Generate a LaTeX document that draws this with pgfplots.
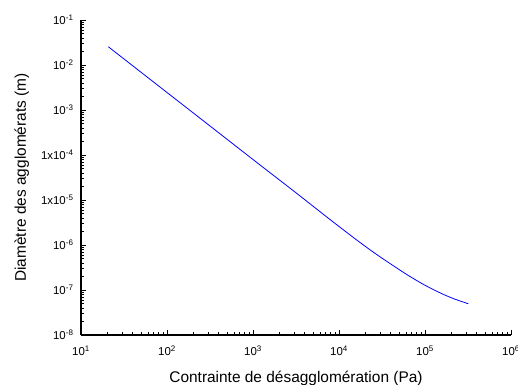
\documentclass[border=0pt]{standalone}
\usepackage{fontspec}
\setmainfont{Liberation Sans}
\usepackage{pgfplots}
\pgfplotsset{compat=1.18}
\begin{document}
\begin{tikzpicture}
\begin{loglogaxis}[
  at={(0,0)}, anchor=south west,
  scale only axis,
  width=430bp, height=315bp,
  xmin=10, xmax=1e6,
  ymin=1e-8, ymax=1e-1,
  axis lines=left,
  axis line style={-, line width=1.1bp},
  tick align=inside,
  major tick length=5bp,
  minor tick length=3bp,
  every major tick/.style={black, line width=0.9bp},
  every minor tick/.style={black, line width=0.7bp},
  xtick={10,100,1000,10000,100000,1000000},
  xticklabels={10\textsuperscript{1},10\textsuperscript{2},10\textsuperscript{3},10\textsuperscript{4},10\textsuperscript{5},10\textsuperscript{6}},
  ytick={1e-8,1e-7,1e-6,1e-5,1e-4,1e-3,1e-2,1e-1},
  yticklabels={10\textsuperscript{-8},10\textsuperscript{-7},10\textsuperscript{-6},1x10\textsuperscript{-5},1x10\textsuperscript{-4},10\textsuperscript{-3},10\textsuperscript{-2},10\textsuperscript{-1}},
  tick label style={font=\fontsize{11.5}{13}\selectfont},
  xticklabel style={yshift=-7bp},
  yticklabel style={xshift=-4bp},
  xlabel={Contrainte de désagglomération (Pa)},
  ylabel={Diamètre des agglomérats (m)},
  label style={font=\fontsize{15.5}{18}\selectfont},
  xlabel style={yshift=-9bp},
  ylabel style={yshift=5bp},
  clip=false,
]
\addplot[blue, line width=0.8bp, smooth] coordinates {
(20.8,0.02541)
(31.62,0.01361)
(100,2.449e-3)
(316.2,4.416e-4)
(1000,7.94e-5)
(3162,1.445e-5)
(7943,3.63e-6)
(15849,1.318e-6)
(25119,6.92e-7)
(39811,3.80e-7)
(63096,2.138e-7)
(100000,1.274e-7)
(158489,8.22e-8)
(223872,6.24e-8)
(318420,4.95e-8)
};
\end{loglogaxis}
\pgfresetboundingbox
\path[use as bounding box] (-81bp,-50bp) rectangle (437bp,335bp);
\end{tikzpicture}
\end{document}
